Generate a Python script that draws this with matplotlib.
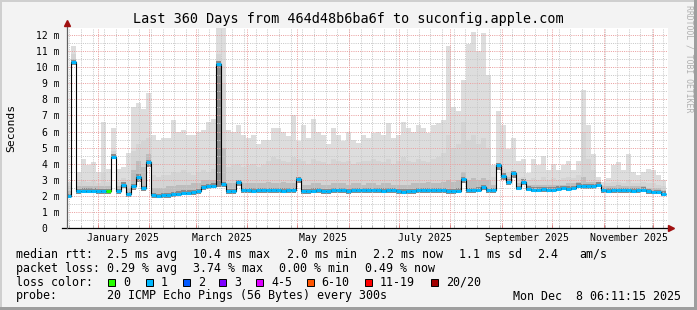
from datetime import datetime, timedelta

import numpy as np
import matplotlib

matplotlib.use("Agg")
import matplotlib.pyplot as plt
from matplotlib.patches import Rectangle

# smokeping data, 3-day bins from the graph start, values in ms
T0 = datetime(2024, 12, 13, 6, 11, 15)
BIN_DAYS = 3

RTT_MEDIAN = [
    2.0, 10.3, 2.3, 2.32, 2.32, 2.32, 2.3, 2.3, 2.3, 4.45,
    2.3, 2.7, 2.1, 2.6, 3.2, 2.5, 4.1, 2.05, 2.0, 2.05,
    2.05, 2.1, 2.15, 2.2, 2.2, 2.25, 2.3, 2.55, 2.6, 2.65,
    10.2, 2.75, 2.3, 2.3, 2.85, 2.35, 2.35, 2.33, 2.35, 2.35,
    2.35, 2.36, 2.35, 2.34, 2.35, 2.36, 3.05, 2.3, 2.3, 2.32,
    2.35, 2.3, 2.3, 2.35, 2.36, 2.35, 2.3, 2.35, 2.36, 2.35,
    2.35, 2.36, 2.35, 2.34, 2.36, 2.35, 2.3, 2.28, 2.3, 2.3,
    2.38, 2.37, 2.38, 2.36, 2.38, 2.37, 2.3, 2.3, 2.32, 3.05,
    2.35, 2.35, 2.4, 2.55, 2.35, 2.35, 3.9, 3.25, 2.9, 3.4,
    2.5, 2.9, 2.45, 2.4, 2.4, 2.42, 2.4, 2.4, 2.45, 2.5,
    2.45, 2.5, 2.65, 2.6, 2.6, 2.6, 2.7, 2.35, 2.33, 2.35,
    2.35, 2.36, 2.35, 2.34, 2.35, 2.4, 2.3, 2.25, 2.25, 2.15,
]
SMOKE_MIN = [
    1.9, 10.1, 2.15, 2.17, 2.17, 2.17, 2.15, 2.15, 2.15, 4.3,
    2.15, 2.5, 1.95, 2.4, 2.9, 2.3, 3.8, 1.9, 1.85, 1.9,
    1.9, 1.95, 2.0, 2.05, 2.05, 2.05, 2.15, 2.4, 2.45, 2.5,
    2.55, 2.55, 2.15, 2.15, 2.6, 2.2, 2.2, 2.18, 2.2, 2.2,
    2.2, 2.2, 2.2, 2.18, 2.2, 2.2, 2.8, 2.15, 2.15, 2.17,
    2.2, 2.15, 2.15, 2.2, 2.2, 2.2, 2.15, 2.2, 2.2, 2.2,
    2.2, 2.2, 2.2, 2.18, 2.2, 2.2, 2.15, 2.13, 2.15, 2.15,
    2.22, 2.22, 2.22, 2.2, 2.22, 2.22, 2.15, 2.15, 2.17, 2.8,
    2.2, 2.2, 2.25, 2.4, 2.2, 2.2, 3.6, 3.0, 2.7, 3.1,
    2.35, 2.7, 2.3, 2.25, 2.25, 2.27, 2.25, 2.25, 2.3, 2.35,
    2.3, 2.35, 2.5, 2.45, 2.45, 2.45, 2.55, 2.2, 2.18, 2.2,
    2.2, 2.2, 2.2, 2.19, 2.2, 2.25, 2.15, 2.1, 2.1, 2.0,
]
SMOKE_MID = [
    2.3, 10.5, 2.6, 2.6, 2.6, 2.6, 2.6, 2.6, 2.6, 4.5,
    2.6, 2.9, 2.5, 3.6, 4.2, 3.8, 4.6, 2.5, 2.5, 2.5,
    2.6, 2.6, 2.7, 2.7, 2.7, 2.8, 2.8, 3.0, 3.0, 3.0,
    10.4, 5.0, 2.8, 2.8, 3.0, 2.8, 2.8, 2.8, 2.8, 2.8,
    2.9, 2.8, 2.8, 2.9, 2.8, 2.8, 3.2, 2.7, 2.7, 2.8,
    2.8, 2.7, 2.7, 2.8, 2.8, 2.8, 2.7, 2.8, 2.8, 2.7,
    2.8, 2.8, 2.7, 2.8, 2.8, 2.7, 2.7, 2.7, 2.7, 2.8,
    2.8, 2.8, 2.9, 2.8, 2.8, 2.9, 3.0, 2.9, 3.0, 3.5,
    3.0, 3.1, 3.0, 3.1, 3.0, 2.7, 3.9, 3.4, 3.2, 3.5,
    2.8, 3.0, 2.7, 2.7, 2.7, 2.7, 2.7, 2.7, 2.7, 2.7,
    2.8, 2.8, 2.9, 3.2, 2.9, 2.9, 2.9, 2.6, 2.6, 2.6,
    2.7, 2.6, 2.6, 2.6, 2.6, 2.6, 2.5, 2.5, 2.5, 2.4,
]
SMOKE_UPR = [
    2.6, 10.8, 2.9, 3.0, 2.9, 3.0, 2.8, 3.4, 2.9, 4.8,
    2.9, 3.1, 3.0, 4.8, 5.2, 5.4, 5.6, 3.3, 3.2, 3.3,
    3.3, 3.5, 3.4, 3.6, 3.4, 3.3, 3.5, 3.6, 3.5, 3.7,
    10.8, 9.0, 3.8, 3.9, 4.0, 3.8, 3.9, 4.0, 3.8, 3.9,
    4.2, 4.4, 4.3, 4.2, 4.1, 4.4, 4.3, 4.2, 4.0, 4.3,
    4.2, 4.1, 4.0, 4.3, 4.2, 4.1, 4.2, 4.0, 4.1, 4.2,
    4.2, 4.3, 4.2, 4.1, 4.3, 4.0, 4.2, 4.4, 4.2, 4.1,
    4.3, 4.2, 4.1, 4.3, 4.4, 4.7, 5.8, 5.0, 5.2, 6.6,
    5.5, 5.8, 5.2, 5.6, 5.0, 3.2, 3.9, 3.7, 3.5, 3.5,
    3.1, 3.2, 3.0, 3.1, 3.0, 3.2, 3.0, 3.1, 3.0, 3.1,
    3.2, 3.1, 3.3, 6.0, 4.3, 3.6, 3.0, 2.7, 2.8, 2.9,
    2.9, 2.8, 3.0, 2.8, 2.8, 2.9, 2.8, 2.8, 2.7, 2.6,
]
SMOKE_MAX = [
    2.9, 11.3, 3.5, 4.3, 3.9, 4.1, 3.5, 6.6, 3.7, 6.2,
    3.7, 3.8, 4.7, 7.5, 7.8, 7.4, 8.4, 5.8, 5.5, 5.6,
    5.6, 6.7, 6.0, 6.1, 5.8, 5.8, 6.0, 6.1, 6.6, 6.8,
    12.6, 12.6, 6.1, 6.0, 6.4, 5.8, 5.6, 5.8, 5.2, 5.5,
    5.5, 6.2, 6.2, 6.0, 5.7, 7.0, 5.4, 6.4, 5.6, 6.8,
    6.0, 5.8, 5.2, 6.2, 5.8, 5.4, 6.0, 5.5, 5.3, 5.8,
    5.6, 5.9, 6.0, 5.8, 6.5, 5.6, 5.8, 6.6, 6.2, 6.0,
    6.4, 6.2, 5.9, 6.4, 6.5, 6.7, 11.3, 7.5, 7.3, 9.2,
    11.4, 12.2, 11.0, 12.1, 9.5, 3.9, 7.3, 6.4, 4.9, 5.6,
    4.2, 4.3, 3.4, 4.3, 3.9, 4.5, 3.6, 4.0, 3.6, 3.9,
    4.2, 3.6, 4.2, 8.6, 6.4, 4.6, 3.2, 2.9, 3.1, 3.9,
    4.1, 3.6, 4.6, 3.5, 3.3, 3.5, 3.7, 3.6, 3.3, 3.0,
]
ZERO_LOSS_BINS = [8]

Y_TICKS = list(range(13))
Y_LABELS = ["0  ", "1 m", "2 m", "3 m", "4 m", "5 m", "6 m", "7 m", "8 m", "9 m", "10 m", "11 m", "12 m"]
MONTH_LABELS = [(2025, 1, "January 2025"), (2025, 3, "March 2025"), (2025, 5, "May 2025"),
                (2025, 7, "July 2025"), (2025, 9, "September 2025"), (2025, 11, "November 2025")]

LOSS_LABELS = ["0", "1", "2", "3", "4-5", "6-10", "11-19", "20/20"]
LOSS_COLORS = ["#26ff00", "#00b8ff", "#0059ff", "#7e00ff", "#dd00ff", "#ff5500", "#ff0000", "#a10000"]

TITLE = "Last 360 Days from 464d48b6ba6f to suconfig.apple.com"
RTT_ROW = ["median rtt:", "2.5 ms avg", "10.4 ms max", "2.0 ms min", "2.2 ms now", "1.1 ms sd", "2.4", "am/s"]
LOSS_ROW = ["packet loss:", "0.29 % avg", "3.74 % max", "0.00 % min", "0.49 % now"]
PROBE_ROW = ["probe:", "20 ICMP Echo Pings (56 Bytes) every 300s", "Mon Dec  8 06:11:15 2025"]

plt.rcParams["font.family"] = ["DejaVu Sans Mono"]

W, H = 697, 310


def fx(x):
    return x / W


def fy(y):
    return 1 - y / H


def days(dt):
    return (dt - T0).total_seconds() / 86400


fig = plt.figure(figsize=(W / 100, H / 100), dpi=100, facecolor="#f3f3f3")
AX_L, AX_R, AX_T, AX_B = 66.5, 668, 27.7, 228.3
ax = fig.add_axes([fx(AX_L), fy(AX_B), (AX_R - AX_L) / W, (AX_B - AX_T) / H])
ax.set_facecolor("white")
for s in ax.spines.values():
    s.set_visible(False)

n = len(RTT_MEDIAN)
edges = np.arange(n + 1) * BIN_DAYS
med = np.array(RTT_MEDIAN)
lo = np.array(SMOKE_MIN)

# smoke layers, light to dark
ax.stairs(SMOKE_MAX, edges, baseline=lo, fill=True, color="#dddddd", lw=0, zorder=1)
ax.stairs(SMOKE_UPR, edges, baseline=lo, fill=True, color="#d4d4d4", lw=0, zorder=1.1)
ax.stairs(SMOKE_MID, edges, baseline=lo, fill=True, color="#bdbdbd", lw=0, zorder=1.2)
ax.stairs(med + 0.15, edges, baseline=lo, fill=True, color="#8a8a8a", lw=0, zorder=1.3)

# grid (rrdtool style dotted lines drawn on top of the smoke)
month_days = [days(datetime(2025, m, 1)) for m in range(1, 13)]
week_days = []
d = datetime(2024, 12, 15)
while days(d) < 360:
    week_days.append(days(d))
    d += timedelta(days=7)
dots = (0, (1, 1.2))
ax.hlines(np.arange(0.5, 12.5, 1.0), 0, 1, transform=ax.get_yaxis_transform(),
          colors="#c8c8c8", lw=0.72, linestyles=dots, zorder=3)
ax.vlines(week_days, 0, 1, transform=ax.get_xaxis_transform(),
          colors="#c8c8c8", lw=0.72, linestyles=dots, zorder=3)
ax.hlines(np.arange(1, 13), 0, 1, transform=ax.get_yaxis_transform(),
          colors="#eaa0a0", lw=0.72, linestyles=dots, zorder=3.1)
ax.vlines(month_days, 0, 1, transform=ax.get_xaxis_transform(),
          colors="#eaa0a0", lw=0.72, linestyles=dots, zorder=3.1)

# median line coloured by loss
ax.stairs(RTT_MEDIAN, edges, baseline=None, color="black", lw=0.8, zorder=4)
seg_colors = [LOSS_COLORS[0] if i in ZERO_LOSS_BINS else LOSS_COLORS[1] for i in range(n)]
ax.hlines(RTT_MEDIAN, edges[:-1], edges[1:], colors=seg_colors, lw=2.2, zorder=5)

ax.set_xlim(0, (AX_R - AX_L) / 1.664)
ax.set_ylim(0, 12.44)

ax.set_yticks(Y_TICKS, Y_LABELS)
ax.tick_params(axis="y", length=0, pad=4.7, labelsize=7)
ax.set_xticks(month_days, [""] * len(month_days))
ax.set_xticks(week_days, minor=True)
ax.tick_params(axis="x", which="major", direction="in", length=3, color="#d07070", width=0.7)
ax.tick_params(axis="x", which="minor", direction="in", length=2, color="#b0b0b0", width=0.7)
for yr, m, lab in MONTH_LABELS:
    start = datetime(yr, m, 1)
    nxt = datetime(yr + (m == 12), m % 12 + 1, 1)
    mid = days(start) + (nxt - start).days / 2
    ax.text(mid, -9.4 / (AX_B - AX_T), lab, transform=ax.get_xaxis_transform(),
            ha="center", va="center", fontsize=7.1)

# axes lines with arrows
aw, ah = AX_R - AX_L, AX_B - AX_T
ax.plot([-4.5 / aw, 1.0], [0, 0], color="black", lw=0.9, transform=ax.transAxes, clip_on=False, zorder=6)
ax.plot([0, 0], [0, 1 + 4 / ah], color="#606060", lw=0.9, transform=ax.transAxes, clip_on=False, zorder=6)
ax.plot([1 + 3 / aw], [0], marker=">", ms=4, color="#a01010", transform=ax.transAxes, clip_on=False, zorder=7)
ax.plot([0], [1 + 4.5 / ah], marker="^", ms=4, color="#a01010", transform=ax.transAxes, clip_on=False, zorder=7)

# texts
fig.text(0.5, fy(19.3), TITLE, ha="center", va="center", fontsize=9.75)
fig.text(fx(11), fy(127.5), "Seconds", rotation=90, ha="center", va="center", fontsize=8.2)
fig.text(fx(688.5), fy(59), "RRDTOOL / TOBI OETIKER", rotation=270, ha="center", va="center",
         fontsize=5.9, color="#b0b0b0")

LEG_FS = 8.4
for txt, x in zip(RTT_ROW, [16, 107.3, 193.3, 286.7, 372.7, 458.7, 536.7, 579.3]):
    fig.text(fx(x), fy(254.3), txt, ha="left", va="center", fontsize=LEG_FS)
for txt, x in zip(LOSS_ROW, [16, 107.3, 193.3, 279.3, 365.3]):
    fig.text(fx(x), fy(268.3), txt, ha="left", va="center", fontsize=LEG_FS)
fig.text(fx(16), fy(282.3), "loss color:", ha="left", va="center", fontsize=LEG_FS)
for lab, col, x in zip(LOSS_LABELS, LOSS_COLORS, [108.3, 145.7, 182.7, 219.3, 256, 306.7, 365, 430.7]):
    fig.add_artist(Rectangle((fx(x), fy(286)), 7 / W, 7.5 / H, transform=fig.transFigure,
                             facecolor=col, edgecolor="black", lw=0.7))
    fig.text(fx(x + 15), fy(282.3), lab, ha="left", va="center", fontsize=LEG_FS)
for txt, x in zip(PROBE_ROW, [16, 107.3, 512.7]):
    fig.text(fx(x), fy(296), txt, ha="left", va="center", fontsize=LEG_FS)

# 3d frame
fig.add_artist(Rectangle((0, 1 - 2 / H), 1, 2 / H, transform=fig.transFigure, color="#cfcfcf", lw=0))
fig.add_artist(Rectangle((0, 0), 2 / W, 1, transform=fig.transFigure, color="#cfcfcf", lw=0))
fig.add_artist(Rectangle((0, 0), 1, 3 / H, transform=fig.transFigure, color="#9e9e9e", lw=0))
fig.add_artist(Rectangle((1 - 3 / W, 0), 3 / W, 1, transform=fig.transFigure, color="#9e9e9e", lw=0))

fig.savefig("out.png", dpi=100, facecolor=fig.get_facecolor())
